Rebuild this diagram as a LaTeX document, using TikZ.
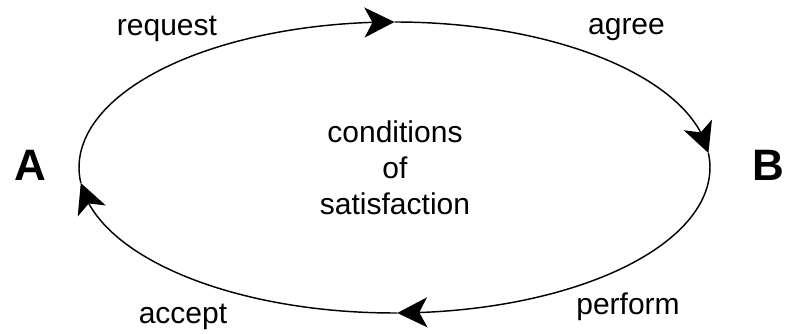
\documentclass[tikz,border=0pt]{standalone}
\usepackage{fontspec}
\setmainfont{Liberation Sans}
\usetikzlibrary{arrows.meta,bending}
\tikzset{
  loopline/.style={line width=1.45pt, -{Stealth[flex, length=30pt, width=30pt, inset=8pt]}},
  lbl/.style={inner sep=0pt, font=\fontsize{30}{36}\selectfont},
  party/.style={inner sep=0pt, font=\fontsize{44}{50}\selectfont\bfseries}
}
\begin{document}
\begin{tikzpicture}[x=1pt,y=1pt]
\useasboundingbox[fill=white] (0,0) rectangle (785,334);
\coordinate (O) at (394.5,166.5);
% the four arcs of the cycle
\draw[loopline] (O) ++(186.1:315.5pt and 145.5pt)
  arc[start angle=186.1, end angle=90, x radius=315.5pt, y radius=145.5pt];
\draw[loopline] (O) ++(90:315.5pt and 145.5pt)
  arc[start angle=90, end angle=5.7, x radius=315.5pt, y radius=145.5pt];
\draw[loopline] (O) ++(5.7:315.5pt and 145.5pt)
  arc[start angle=5.7, end angle=-89.5, x radius=315.5pt, y radius=145.5pt];
\draw[loopline] (O) ++(270.5:315.5pt and 145.5pt)
  arc[start angle=270.5, end angle=186.1, x radius=315.5pt, y radius=145.5pt];
% labels
\node[party, anchor=base] (A) at (30.5,153) {A};
\node[party, anchor=base west] (B) at (752,153) {B};
\node[lbl, anchor=base] (request) at (167,298) {request};
\node[lbl, anchor=base] (agree) at (626.5,299) {agree};
\node[lbl, anchor=base] (perform) at (628,19) {perform};
\node[lbl, anchor=base] (accept) at (183,10) {accept};
\node[lbl, align=center, anchor=center] (cos) at (395,166) {conditions\\of\\satisfaction};
\end{tikzpicture}
\end{document}
